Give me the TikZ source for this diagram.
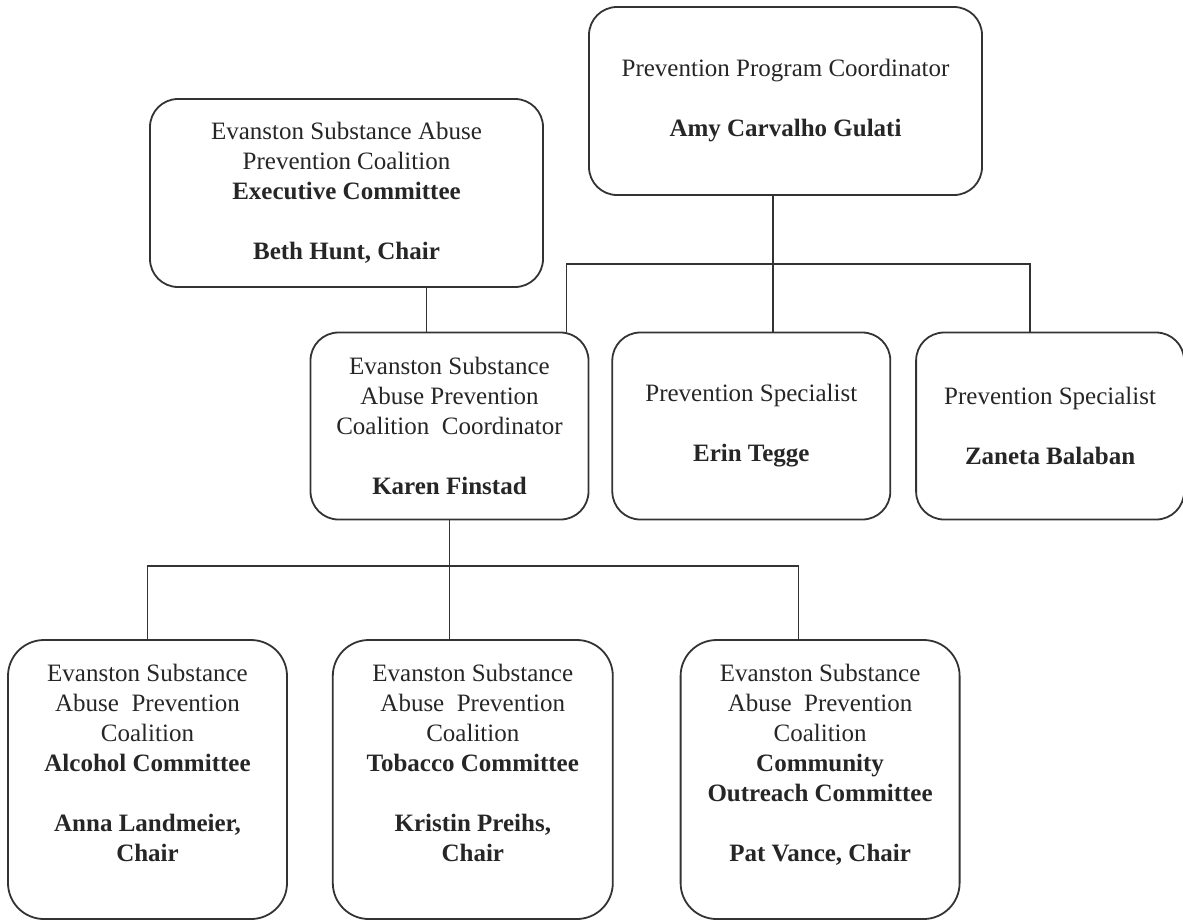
\documentclass[tikz,border=0pt]{standalone}
\usepackage{fontspec}
\setmainfont{Liberation Serif}
\usetikzlibrary{positioning}

\begin{document}
\begin{tikzpicture}[x=1pt,y=-1pt,font=\fontsize{25}{30}\selectfont,text=black!85,
  box/.style={draw=black!80,line width=1.8pt,rounded corners=28pt,align=center,inner sep=0pt,minimum width=278pt,minimum height=187pt},
  wide/.style={box,minimum width=393pt,minimum height=188pt},
  tall/.style={box,rounded corners=36pt,minimum width=279pt,minimum height=279pt,text depth=34pt},
  link/.style={draw=black!80,line width=1.5pt}]
  \useasboundingbox (0,0) rectangle (1183,922);
  \node[wide] (ppc) at (785.5,101) {Prevention Program Coordinator\\[30pt] \textbf{Amy Carvalho Gulati}};
  \node[wide] (exec) at (346.5,193) {Evanston Substance Abuse\\ Prevention Coalition\\ \textbf{Executive Committee}\\[30pt] \textbf{Beth Hunt, Chair}};
  \node[box] (coord) at (449.5,426) {Evanston Substance\\ Abuse Prevention\\ Coalition\ \ Coordinator\\[30pt] \textbf{Karen Finstad}};
  \node[box,right=22pt of coord] (erin) {Prevention Specialist\\[30pt] \textbf{Erin Tegge}};
  \node[box,minimum width=268pt,right=24pt of erin] (zaneta) {Prevention Specialist\\[30pt] \textbf{Zaneta Balaban}};
  \node[tall] (alcohol) at (147.5,779.5) {Evanston Substance\\ Abuse\ \ Prevention\\ Coalition\\ \textbf{Alcohol Committee}\\[30pt] \textbf{Anna Landmeier,}\\ \textbf{Chair}};
  \node[tall,minimum width=280pt,right=44pt of alcohol] (tobacco) {Evanston Substance\\ Abuse\ \ Prevention\\ Coalition\\ \textbf{Tobacco Committee}\\[30pt] \textbf{Kristin Preihs,}\\ \textbf{Chair}};
  \node[tall,right=66pt of tobacco] (outreach) {Evanston Substance\\ Abuse\ \ Prevention\\ Coalition\\ \textbf{Community}\\ \textbf{Outreach Committee}\\[30pt] \textbf{Pat Vance, Chair}};
  \coordinate (staffbar) at (773,264);
  \coordinate (fork) at (449.5,566);
  \draw[link] ([xshift=80pt]exec.south) -- ([xshift=80pt]exec.south |- coord.north);
  \draw[link] ([xshift=-12.5pt]ppc.south) -- ([xshift=-12.5pt]ppc.south |- erin.north);
  \draw[link] ([xshift=-23pt]coord.north east) |- (staffbar) -| ([xshift=-20pt]zaneta.north);
  \draw[link] (coord.south) -- (coord.south |- tobacco.north);
  \draw[link] (alcohol.north) |- (fork) -| ([xshift=-21.5pt]outreach.north);
\end{tikzpicture}
\end{document}
